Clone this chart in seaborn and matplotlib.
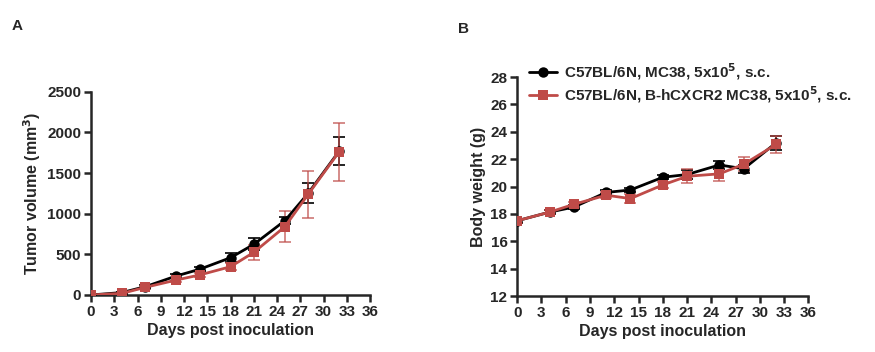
import numpy as np
import pandas as pd
import matplotlib
matplotlib.use("Agg")
import matplotlib.pyplot as plt
import seaborn as sns

# ---------------------------------------
# data
# ---------------------------------------
days = [0, 4, 7, 11, 14, 18, 21, 25, 28, 32]
groups = ["C57BL/6N, MC38, 5x10$^5$, s.c.",
          "C57BL/6N, B-hCXCR2 MC38, 5x10$^5$, s.c."]

vol_wt = [0, 30, 102, 234, 316, 459, 623, 914, 1250, 1770]
vol_wt_err = [5, 12, 15, 20, 25, 53, 74, 45, 123, 172]
vol_h = [0, 20, 94, 184, 246, 348, 525, 840, 1238, 1762]
vol_h_err = [5, 10, 18, 20, 25, 40, 94, 190, 287, 361]

bw_wt = [17.5, 18.13, 18.5, 19.57, 19.75, 20.68, 20.88, 21.58, 21.3, 23.2]
bw_wt_err = [0.15, 0.15, 0.15, 0.15, 0.15, 0.15, 0.3, 0.3, 0.3, 0.5]
bw_h = [17.5, 18.13, 18.7, 19.37, 19.12, 20.12, 20.75, 20.93, 21.63, 23.08]
bw_h_err = [0.15, 0.15, 0.2, 0.2, 0.35, 0.2, 0.5, 0.5, 0.5, 0.6]

colors = ["#000000", "#BF4B48"]
markers = ["o", "s"]

df_vol = pd.DataFrame({
    "day": days * 2,
    "value": vol_wt + vol_h,
    "err": vol_wt_err + vol_h_err,
    "group": [groups[0]] * len(days) + [groups[1]] * len(days),
})
df_bw = pd.DataFrame({
    "day": days * 2,
    "value": bw_wt + bw_h,
    "err": bw_wt_err + bw_h_err,
    "group": [groups[0]] * len(days) + [groups[1]] * len(days),
})

sns.set_style("ticks")
plt.rcParams["font.family"] = ["Liberation Sans", "DejaVu Sans"]
plt.rcParams["font.weight"] = "bold"

fig = plt.figure(figsize=(8.75, 3.52), dpi=100)
axA = fig.add_axes([0.104, 0.162, 0.319, 0.577])
axB = fig.add_axes([0.591, 0.159, 0.333, 0.622])


def draw(ax, df, legend):
    # error bars first so the lines sit on top
    for g, c in zip(groups, colors):
        sub = df[df["group"] == g]
        ax.errorbar(sub["day"], sub["value"], yerr=sub["err"], fmt="none",
                    ecolor=c, elinewidth=1.2, capsize=4, capthick=1.2,
                    alpha=0.75 if c != "#000000" else 1, zorder=2)
    sns.lineplot(data=df, x="day", y="value", hue="group", style="group",
                 palette=colors, markers=markers, dashes=False,
                 markersize=7.5, markeredgewidth=0, linewidth=2,
                 ax=ax, legend=legend, zorder=3)
    ax.set_xlim(0, 36)
    ax.set_xticks(range(0, 37, 3))
    ax.set_xlabel("Days post inoculation", fontsize=11.5, fontweight="bold",
                  labelpad=3)
    for s in ["top", "right"]:
        ax.spines[s].set_visible(False)
    for s in ["left", "bottom"]:
        ax.spines[s].set_linewidth(1.8)
    ax.tick_params(width=1.8, length=5, labelsize=11, pad=2)
    for lbl in ax.get_xticklabels() + ax.get_yticklabels():
        lbl.set_fontweight("bold")


draw(axA, df_vol, False)
axA.set_ylim(0, 2500)
axA.set_yticks(range(0, 2501, 500))
axA.set_ylabel("Tumor volume (mm$^3$)", fontsize=11.5, fontweight="bold",
               labelpad=3)

draw(axB, df_bw, True)
axB.set_ylim(12, 28)
axB.set_yticks(range(12, 29, 2))
axB.set_ylabel("Body weight (g)", fontsize=11.5, fontweight="bold", labelpad=3)
leg = axB.legend(loc="upper left", bbox_to_anchor=(0.02, 1.1), frameon=False,
                 fontsize=11, handlelength=1.8, handletextpad=0.5,
                 labelspacing=0.15, borderaxespad=0)
for t in leg.get_texts():
    t.set_fontweight("bold")

for ax in (axA, axB):
    ax.spines["left"].set_position(("data", 0))

fig.text(0.013, 0.915, "A", fontsize=11, fontweight="bold")
fig.text(0.523, 0.905, "B", fontsize=11, fontweight="bold")

fig.savefig("out.png", dpi=100)
